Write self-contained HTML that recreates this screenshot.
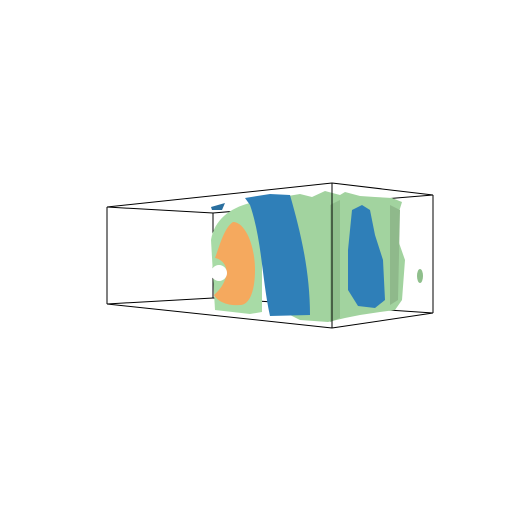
<!DOCTYPE html>
<html><head><meta charset="utf-8"><style>html,body{margin:0;background:#fff}svg{display:block}</style></head>
<body>
<svg width="512" height="512" viewBox="0 0 512 512">
<g stroke="#000" stroke-width="1" fill="none">
<line x1="107" y1="207" x2="213" y2="213"/>
<line x1="213" y1="213" x2="433" y2="195"/>
<line x1="213" y1="213" x2="213" y2="298"/>
<line x1="107" y1="304" x2="213" y2="298"/>
<line x1="213" y1="298" x2="433" y2="313"/>
</g>
<g>
<path d="M211,240 C214,220 230,208 250,203 L262,201 L262,312 L250,314 L215,310 Z" fill="#a8dba6"/>
<path d="M288,196 L300,194 L312,197 L325,191 L340,195 L345,192 L360,196 L375,197 L392,198 L402,202 L398,215 L398,240 L405,260 L402,300 L395,310 L380,312 L360,315 L345,318 L328,322 L300,320 L290,315 Z" fill="#a2d39f"/>
<path d="M330,205 L340,200 L340,318 L330,322 Z" fill="#8fbf8c"/>
<path d="M390,205 L400,210 L398,300 L390,305 Z" fill="#8fb98b"/>
<ellipse cx="420" cy="276" rx="3" ry="7" fill="#8fbf8c"/>
</g>
<g>
<path d="M245,198 L270,194 L290,195 C300,230 310,270 310,315 L270,316 C262,280 262,240 250,205 Z" fill="#2f7fb8"/>
<path d="M211,207 L225,203 L222,210 L212,210 Z" fill="#2a6f9f"/>
<path d="M352,210 L362,205 L370,210 L375,235 L383,260 L385,300 L375,308 L358,306 L348,290 L348,250 Z" fill="#2f7fb8"/>
</g>
<g>
<path d="M233,222 C245,222 255,245 255,270 C255,290 250,305 240,305 C228,306 218,302 214,295 C222,288 228,278 226,268 C224,260 216,258 215,258 C220,245 224,228 233,222 Z" fill="#f5a95e"/>
<circle cx="219" cy="273" r="8" fill="#fff"/>
</g>
<g stroke="#000" stroke-width="1" fill="none">
<line x1="107" y1="207" x2="107" y2="304"/>
<line x1="107" y1="207" x2="332" y2="183"/>
<line x1="332" y1="183" x2="433" y2="195"/>
<line x1="332" y1="183" x2="332" y2="328"/>
<line x1="433" y1="195" x2="433" y2="313"/>
<line x1="107" y1="304" x2="332" y2="328"/>
<line x1="332" y1="328" x2="433" y2="313"/>
</g>
</svg>
</body></html>
